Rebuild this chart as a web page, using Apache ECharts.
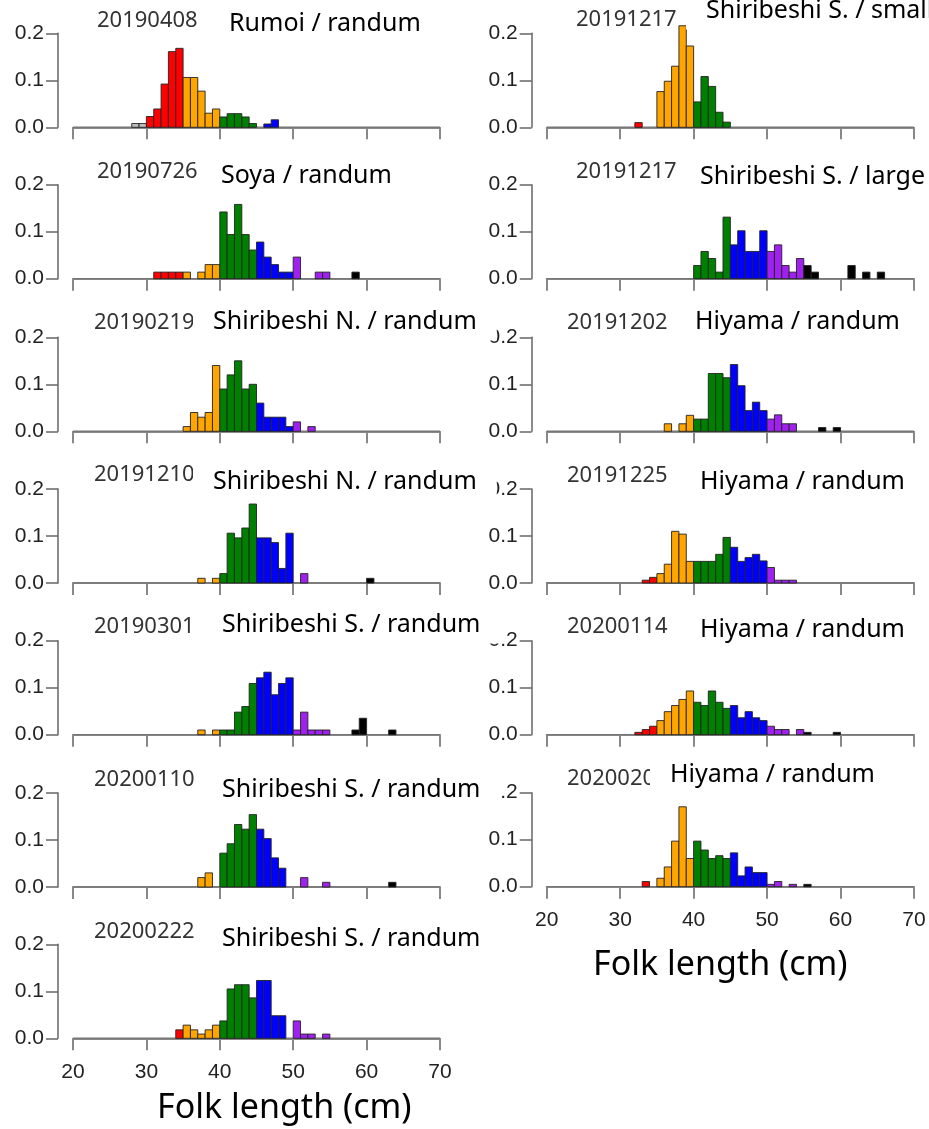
<!DOCTYPE html>
<html><head><meta charset="utf-8">
<script src="https://cdn.jsdelivr.net/npm/echarts@6/dist/echarts.min.js"></script>
<style>html,body{margin:0;padding:0;background:#fff}#c{width:929px;height:1129px}</style>
</head><body><div id="c"></div>
<script>
// ---------- DATA ----------
const panelDates = ['20190408','20190726','20190219','20191210','20190301','20200110','20200222',
                    '20191217','20191217','20191202','20191225','20200114','2020020'];
const panelTitles = ['Rumoi / randum','Soya / randum','Shiribeshi N. / randum','Shiribeshi N. / randum',
                     'Shiribeshi S. / randum','Shiribeshi S. / randum','Shiribeshi S. / randum',
                     'Shiribeshi S. / small','Shiribeshi S. / large','Hiyama / randum','Hiyama / randum',
                     'Hiyama / randum','Hiyama / randum'];
// lower edge (cm) of the first 1-cm bin of each panel
const firstBin = [28,31,35,37,37,37,34, 32,40,36,33,32,33];
// relative frequencies per 1-cm bin
const rumoi20190408 = [0.008,0.008,0.023,0.039,0.092,0.161,0.168,0.106,0.106,0.077,0.030,0.039,0.022,0.029,0.029,0.022,0.008,0,0.007,0.016];
const soya20190726 = [0.014,0.014,0.014,0.014,0.014,0,0.014,0.030,0.030,0.142,0.094,0.158,0.094,0.061,0.078,0.046,0.030,0.014,0.014,0.046,0,0,0.014,0.014,0,0,0,0.014];
const shiriN20190219 = [0.01,0.04,0.03,0.04,0.14,0.09,0.12,0.15,0.09,0.10,0.06,0.03,0.03,0.03,0.01,0.02,0,0.01];
const shiriN20191210 = [0.01,0,0.01,0.02,0.106,0.096,0.117,0.168,0.096,0.096,0.086,0.031,0.106,0,0.02,0,0,0,0,0,0,0,0,0.01];
const shiriS20190301 = [0.01,0,0.01,0.01,0.01,0.048,0.060,0.109,0.121,0.133,0.085,0.109,0.121,0.01,0.048,0.01,0.01,0.01,0,0,0,0.01,0.035,0,0,0,0.01];
const shiriS20200110 = [0.020,0.030,0,0.072,0.092,0.133,0.123,0.154,0.123,0.103,0.062,0.040,0,0,0.02,0,0,0.01,0,0,0,0,0,0,0,0,0.01];
const shiriS20200222 = [0.018,0.028,0.018,0.009,0.018,0.028,0.037,0.105,0.114,0.114,0.086,0.123,0.123,0.048,0.048,0,0.037,0.009,0.009,0,0.009];
const shiriSsmall20191217 = [0.01,0,0,0.076,0.098,0.130,0.216,0.173,0.054,0.108,0.087,0.032,0.011];
const shiriSlarge20191217 = [0.028,0.058,0.043,0.014,0.131,0.072,0.102,0.058,0.058,0.102,0.058,0.072,0.028,0.014,0.043,0.028,0.014,0,0,0,0,0.028,0,0.014,0,0.014];
const hiyama20191202 = [0.016,0,0.016,0.034,0.026,0.026,0.123,0.123,0.114,0.142,0.097,0.044,0.062,0.044,0.026,0.035,0.016,0.016,0,0,0,0.008,0,0.008];
const hiyama20191225 = [0.006,0.012,0.02,0.04,0.11,0.104,0.046,0.046,0.046,0.046,0.061,0.097,0.076,0.046,0.054,0.061,0.047,0.033,0.006,0.006,0.006];
const hiyama20200114 = [0.005,0.011,0.018,0.030,0.049,0.062,0.075,0.093,0.069,0.062,0.093,0.069,0.056,0.062,0.036,0.049,0.036,0.030,0.018,0.011,0.011,0,0.011,0.005,0,0,0,0.005];
const hiyama202002 = [0.011,0,0.018,0.042,0.097,0.170,0.060,0.097,0.078,0.060,0.066,0.060,0.072,0.023,0.042,0.030,0.030,0.005,0.011,0,0.005,0,0.005];
const xRange = [20, 70];
const xTickStep = 10;
const yRange = [0, 0.2];
const yTickStep = 0.1;
const xAxisName = 'Folk length (cm)';

const freqs = [rumoi20190408, soya20190726, shiriN20190219, shiriN20191210, shiriS20190301, shiriS20200110, shiriS20200222,
               shiriSsmall20191217, shiriSlarge20191217, hiyama20191202, hiyama20191225, hiyama20200114, hiyama202002];

// ---------- LAYOUT ----------
const colLeft = [73, 546.7];
const colWidth = [367, 367.3];
const plotH = 94;
const tops = [33.3,184.7,337.3,489,640.7,793,944.3, 33.3,184.7,337.3,489,640.7,792.7];
const dateXY = [[97,21],[97,172],[94,323],[94,475],[94,627],[94,780],[94,932],
                [576,20],[576,172],[567,323],[567,476],[567,627],[567,779]];
const titleXY = [[229,21],[221,173],[213,319],[213,479],[222,622],[222,787],[222,936],
                 [706,8],[700,174],[695,319],[700,479],[700,627],[670,772]];
const labelled = [6, 12];

const COLORS = ['#BEBEBE','#FF0000','#FFA500','#008000','#0000FF','#A020F0','#000000'];
function binColor(b){
  if (b < 30) return COLORS[0];
  if (b >= 55) return COLORS[6];
  return COLORS[1 + Math.floor((b - 30) / 5)];
}

const grids = [], xAxes = [], yAxes = [], series = [], graphics = [];

for (let i = 0; i < 13; i++) {
  const col = i < 7 ? 0 : 1;
  grids.push({left: colLeft[col], top: tops[i], width: colWidth[col], height: plotH, outerBoundsMode:'none', containLabel:false});
  xAxes.push({
    type:'value', gridIndex:i, min:xRange[0], max:xRange[1], interval:xTickStep, position:'bottom', offset:6,
    axisLine:{show:true, lineStyle:{color:'#888', width:2}},
    axisTick:{show:true, length:12, lineStyle:{color:'#888', width:2}},
    axisLabel:{show: labelled.includes(i), margin:17, fontFamily:'Liberation Sans', fontSize:21, color:'#222'},
    splitLine:{show:false}
  });
  yAxes.push({
    type:'value', gridIndex:i, min:yRange[0], max:yRange[1], interval:yTickStep, position:'left', offset:15,
    axisLine:{show:true, lineStyle:{color:'#666', width:1.5}},
    axisTick:{show:true, length:12, lineStyle:{color:'#666', width:1.5}},
    axisLabel:{margin:14, formatter:v => v.toFixed(1), fontFamily:'Liberation Sans', fontSize:21, color:'#222'},
    splitLine:{show:false}
  });
  const data = freqs[i].map((v, k) => [firstBin[i] + k, v]).filter(d => d[1] > 0);
  series.push({
    type:'line', xAxisIndex:i, yAxisIndex:i, data:[[xRange[0],0],[xRange[1],0]], symbol:'none', silent:true, z:1,
    lineStyle:{color:'#777', width:1.6}
  });
  series.push({
    type:'custom', xAxisIndex:i, yAxisIndex:i, data:data, z:3,
    renderItem:function(params, api){
      const b = api.value(0), v = api.value(1);
      const p0 = api.coord([b, v]);
      const p1 = api.coord([b + 1, 0]);
      return {type:'rect', shape:{x:p0[0], y:p0[1], width:p1[0]-p0[0], height:p1[1]-p0[1]},
              style:{fill:binColor(b), stroke:'#222', lineWidth:0.9}};
    }
  });
  graphics.push({type:'text', x:dateXY[i][0], y:dateXY[i][1], z:90,
    style:{text:panelDates[i], fontSize:22, fontFamily:'"Noto Sans", sans-serif', fill:'#333', align:'left', verticalAlign:'middle'}});
  const pad = [4, 20, 9, 20];
  graphics.push({type:'text', x:titleXY[i][0] - pad[3], y:titleXY[i][1] + (pad[2]-pad[0])/2, z:100,
    style:{text:panelTitles[i], fontSize:25, fontFamily:'"Noto Sans", sans-serif', fill:'#000', align:'left', verticalAlign:'middle',
           backgroundColor:'#fff', padding:pad}});
}
graphics.push({type:'text', x:157, y:1108, z:100,
  style:{text:xAxisName, fontSize:34, fontFamily:'"Noto Sans", sans-serif', fill:'#000', align:'left', verticalAlign:'middle'}});
graphics.push({type:'text', x:593, y:965, z:100,
  style:{text:xAxisName, fontSize:34, fontFamily:'"Noto Sans", sans-serif', fill:'#000', align:'left', verticalAlign:'middle'}});

const chart = echarts.init(document.getElementById('c'), null, {renderer:'canvas'});
chart.setOption({
  animation:false,
  backgroundColor:'#fff',
  grid:grids, xAxis:xAxes, yAxis:yAxes, series:series, graphic:graphics
});
</script>
</body></html>
